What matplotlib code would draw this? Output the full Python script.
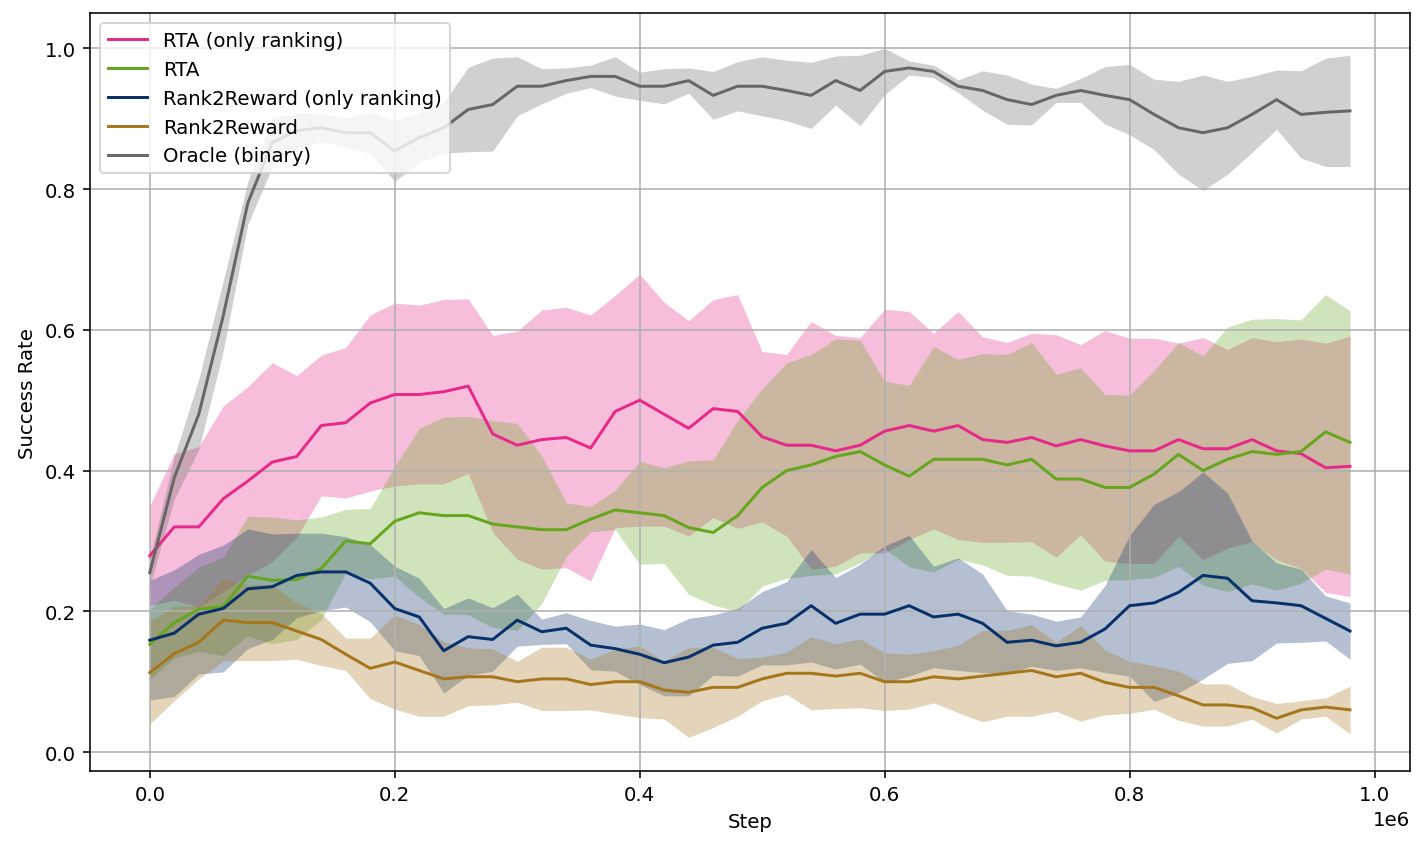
import numpy as np
import matplotlib
matplotlib.use("Agg")
import matplotlib.pyplot as plt

steps = np.arange(50) * 20000

labels = ["RTA (only ranking)", "RTA", "Rank2Reward (only ranking)", "Rank2Reward", "Oracle (binary)"]
colors = ["#e7298a", "#66a61e", "#08306b", "#a6761d", "#666666"]

rta_rank_mean = [0.279, 0.320, 0.320, 0.360, 0.385, 0.412, 0.420, 0.464, 0.468, 0.496,
                 0.508, 0.508, 0.512, 0.520, 0.452, 0.436, 0.444, 0.447, 0.432, 0.484,
                 0.500, 0.480, 0.460, 0.488, 0.484, 0.448, 0.436, 0.436, 0.428, 0.436,
                 0.456, 0.464, 0.456, 0.464, 0.444, 0.440, 0.447, 0.435, 0.444, 0.435,
                 0.428, 0.428, 0.444, 0.431, 0.431, 0.444, 0.428, 0.424, 0.404, 0.406]
rta_rank_std = [0.071, 0.104, 0.114, 0.132, 0.134, 0.141, 0.115, 0.100, 0.107, 0.125,
                0.130, 0.127, 0.131, 0.124, 0.140, 0.162, 0.184, 0.185, 0.189, 0.165,
                0.179, 0.159, 0.153, 0.155, 0.166, 0.121, 0.129, 0.176, 0.164, 0.153,
                0.173, 0.162, 0.139, 0.162, 0.146, 0.142, 0.148, 0.158, 0.135, 0.164,
                0.160, 0.160, 0.137, 0.158, 0.141, 0.145, 0.155, 0.163, 0.177, 0.185]

rta_mean = [0.153, 0.184, 0.203, 0.207, 0.250, 0.244, 0.245, 0.261, 0.300, 0.296,
            0.328, 0.340, 0.336, 0.336, 0.324, 0.320, 0.316, 0.316, 0.331, 0.344,
            0.340, 0.336, 0.319, 0.312, 0.336, 0.376, 0.400, 0.408, 0.420, 0.427,
            0.408, 0.392, 0.416, 0.416, 0.416, 0.408, 0.416, 0.388, 0.388, 0.376,
            0.376, 0.395, 0.423, 0.400, 0.416, 0.427, 0.423, 0.427, 0.455, 0.440]
rta_std = [0.050, 0.050, 0.060, 0.070, 0.085, 0.090, 0.085, 0.073, 0.045, 0.050,
           0.078, 0.120, 0.140, 0.141, 0.147, 0.147, 0.105, 0.038, 0.018, 0.028,
           0.073, 0.068, 0.095, 0.103, 0.136, 0.140, 0.153, 0.157, 0.167, 0.158,
           0.119, 0.129, 0.160, 0.142, 0.150, 0.157, 0.166, 0.149, 0.158, 0.132,
           0.131, 0.147, 0.159, 0.163, 0.188, 0.188, 0.193, 0.187, 0.195, 0.187]

r2r_rank_mean = [0.159, 0.169, 0.196, 0.204, 0.232, 0.235, 0.251, 0.256, 0.256, 0.240,
                 0.204, 0.192, 0.144, 0.164, 0.160, 0.1875, 0.171, 0.176, 0.152, 0.147,
                 0.139, 0.127, 0.135, 0.152, 0.156, 0.176, 0.183, 0.208, 0.183, 0.196,
                 0.196, 0.208, 0.192, 0.196, 0.183, 0.156, 0.159, 0.151, 0.156, 0.175,
                 0.208, 0.212, 0.227, 0.251, 0.247, 0.215, 0.212, 0.208, 0.190, 0.172]
r2r_rank_std = [0.085, 0.090, 0.085, 0.090, 0.085, 0.075, 0.060, 0.055, 0.050, 0.055,
                0.060, 0.055, 0.060, 0.055, 0.045, 0.037, 0.018, 0.022, 0.035, 0.032,
                0.043, 0.047, 0.055, 0.043, 0.048, 0.052, 0.059, 0.080, 0.065, 0.071,
                0.097, 0.100, 0.072, 0.080, 0.070, 0.045, 0.037, 0.035, 0.036, 0.062,
                0.100, 0.140, 0.143, 0.147, 0.121, 0.085, 0.057, 0.052, 0.032, 0.040]

r2r_mean = [0.113, 0.140, 0.156, 0.1875, 0.184, 0.184, 0.172, 0.160, 0.139, 0.119,
            0.128, 0.116, 0.104, 0.107, 0.107, 0.100, 0.104, 0.104, 0.096, 0.100,
            0.100, 0.088, 0.085, 0.092, 0.092, 0.104, 0.112, 0.112, 0.108, 0.112,
            0.100, 0.100, 0.107, 0.104, 0.108, 0.112, 0.116, 0.107, 0.112, 0.099,
            0.092, 0.092, 0.080, 0.067, 0.067, 0.063, 0.048, 0.060, 0.064, 0.060]
r2r_std = [0.073, 0.067, 0.052, 0.058, 0.054, 0.054, 0.040, 0.037, 0.023, 0.043,
           0.067, 0.065, 0.053, 0.041, 0.040, 0.029, 0.045, 0.045, 0.036, 0.046,
           0.051, 0.041, 0.064, 0.057, 0.041, 0.031, 0.030, 0.052, 0.046, 0.049,
           0.041, 0.039, 0.037, 0.048, 0.065, 0.061, 0.065, 0.049, 0.068, 0.046,
           0.037, 0.031, 0.035, 0.030, 0.030, 0.016, 0.021, 0.013, 0.013, 0.034]

oracle_mean = [0.255, 0.390, 0.480, 0.620, 0.780, 0.866, 0.883, 0.887, 0.880, 0.880,
               0.854, 0.873, 0.887, 0.913, 0.920, 0.946, 0.946, 0.954, 0.960, 0.960,
               0.946, 0.946, 0.954, 0.933, 0.946, 0.946, 0.940, 0.933, 0.954, 0.940,
               0.967, 0.972, 0.967, 0.946, 0.940, 0.927, 0.920, 0.933, 0.940, 0.933,
               0.927, 0.906, 0.887, 0.880, 0.887, 0.906, 0.927, 0.906, 0.909, 0.911]
oracle_std = [0.020, 0.030, 0.050, 0.050, 0.030, 0.035, 0.025, 0.020, 0.020, 0.030,
              0.043, 0.035, 0.036, 0.060, 0.066, 0.042, 0.025, 0.018, 0.016, 0.028,
              0.020, 0.025, 0.018, 0.034, 0.035, 0.042, 0.043, 0.047, 0.035, 0.050,
              0.033, 0.010, 0.009, 0.009, 0.028, 0.035, 0.029, 0.010, 0.017, 0.041,
              0.050, 0.050, 0.066, 0.082, 0.066, 0.054, 0.042, 0.062, 0.077, 0.079]

means = [rta_rank_mean, rta_mean, r2r_rank_mean, r2r_mean, oracle_mean]
stds = [rta_rank_std, rta_std, r2r_rank_std, r2r_std, oracle_std]

fig, ax = plt.subplots(figsize=(10, 6.007), dpi=142.5)
fig.subplots_adjust(left=0.063, right=0.9895, top=0.9836, bottom=0.098)

for lab, col, m, s in zip(labels, colors, means, stds):
    m = np.asarray(m)
    s = np.asarray(s)
    ax.plot(steps, m, color=col, label=lab, linewidth=1.5)
    ax.fill_between(steps, m - s, m + s, color=col, alpha=0.3, linewidth=0)

ax.set_xlim(-0.049e6, 1.029e6)
ax.set_ylim(-0.027, 1.05)
ax.set_xlabel("Step")
ax.set_ylabel("Success Rate")
ax.grid(True)
ax.legend(loc="upper left")

fig.savefig("out.png", dpi=142.5)
